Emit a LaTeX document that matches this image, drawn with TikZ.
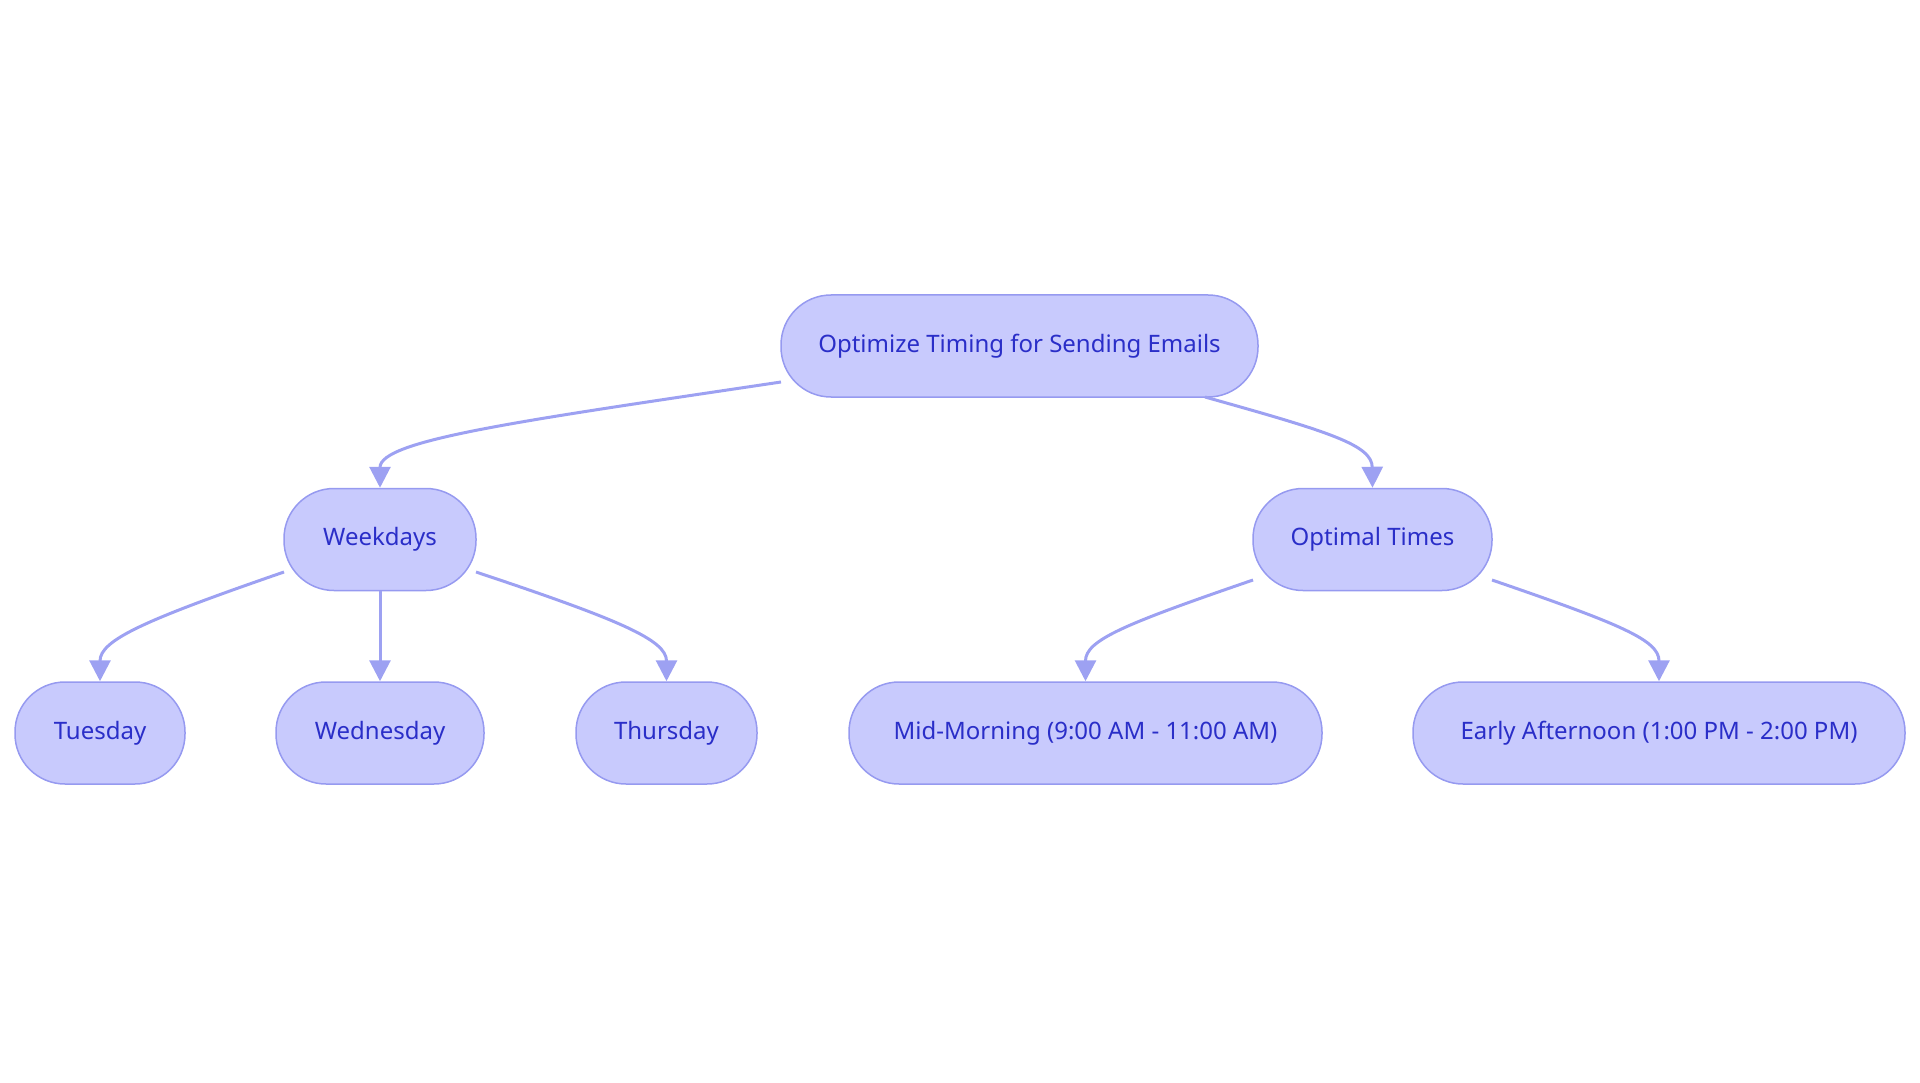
\documentclass[tikz,border=0pt]{standalone}
\usepackage{fontspec}
\setmainfont{Noto Sans}
\usetikzlibrary{arrows.meta}
\definecolor{nodefill}{RGB}{200,202,253}
\definecolor{nodedraw}{RGB}{150,154,240}
\definecolor{edgecol}{RGB}{157,161,242}
\definecolor{textcol}{RGB}{42,46,200}
\tikzset{
  box/.style={draw=nodedraw, line width=1.5pt, fill=nodefill, rounded corners=50pt,
    minimum height=102pt, inner sep=0pt, text=textcol,
    font=\fontsize{24}{29}\selectfont},
  conn/.style={draw=edgecol, line width=3pt, -{Triangle[length=21pt,width=21pt]}}
}
\begin{document}
\begin{tikzpicture}[x=1pt,y=-1pt]
\useasboundingbox (0,0) rectangle (1920,1083);
\node[box, minimum width=477pt] (root) at (1019.5,346) {Optimize Timing for Sending Emails};
\node[box, minimum width=192pt] (wd) at (380,539.5) {Weekdays};
\node[box, minimum width=239pt] (ot) at (1372.5,539.5) {Optimal Times};
\node[box, minimum width=170pt] (tue) at (100,733) {Tuesday};
\node[box, minimum width=208pt] (wed) at (380,733) {Wednesday};
\node[box, minimum width=181pt] (thu) at (666.5,733) {Thursday};
\node[box, minimum width=473pt] (mid) at (1085.5,733) {Mid-Morning (9:00 AM - 11:00 AM)};
\node[box, minimum width=492pt] (ea) at (1659,733) {Early Afternoon (1:00 PM - 2:00 PM)};
\coordinate (r1) at (781,382);
\coordinate (r2) at (1205,397);
\coordinate (w1) at (284,572);
\coordinate (w2) at (476,572);
\coordinate (o1) at (1253,580);
\coordinate (o2) at (1492,580);
\draw[conn] (r1) .. controls (520,421) and (380,440) .. (wd.north);
\draw[conn] (r2) .. controls (1330,432) and (1372,445) .. (ot.north);
\draw[conn] (w1) .. controls (145,620) and (100,640) .. (tue.north);
\draw[conn] (wd.south) -- (wed.north);
\draw[conn] (w2) .. controls (620,620) and (666.5,640) .. (thu.north);
\draw[conn] (o1) .. controls (1125,624) and (1085.5,640) .. (mid.north);
\draw[conn] (o2) .. controls (1620,624) and (1659,640) .. (ea.north);
\end{tikzpicture}
\end{document}
